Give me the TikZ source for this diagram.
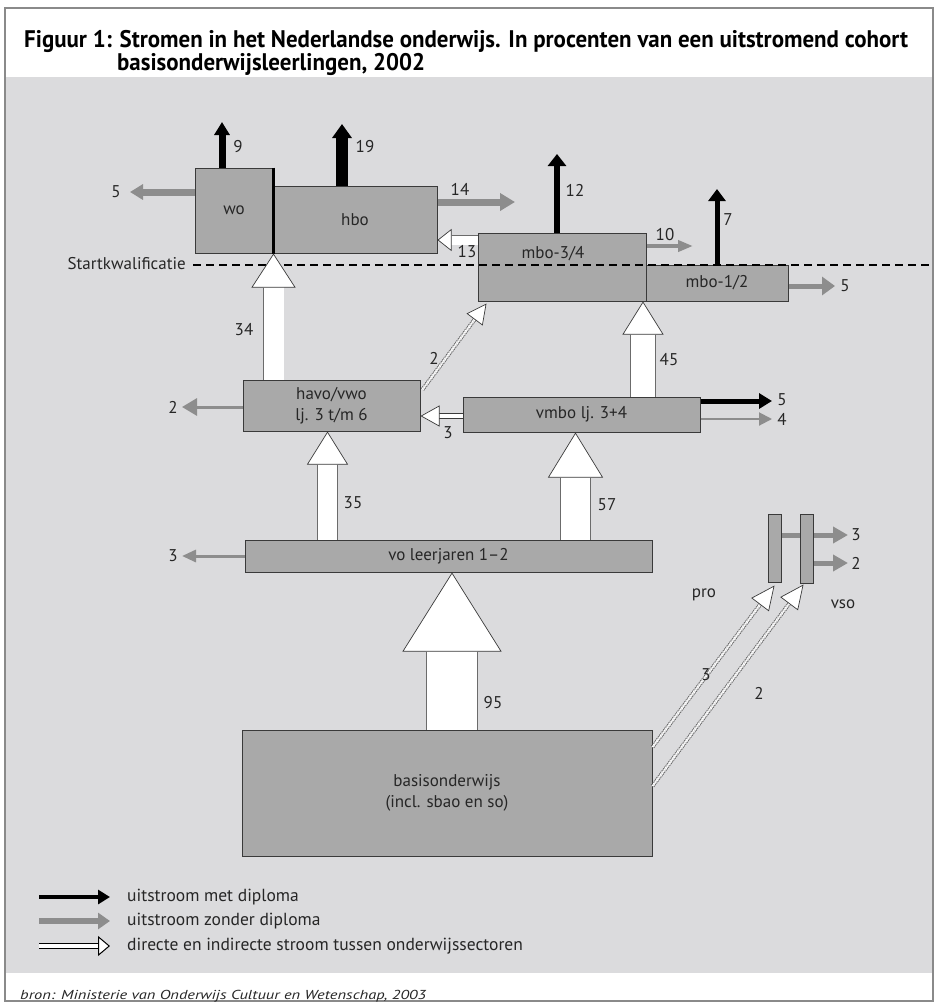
\documentclass[tikz,border=0pt]{standalone}
\usepackage{fontspec}
\setmainfont{PT Sans}
\usetikzlibrary{arrows.meta,calc}

\definecolor{panelgray}{HTML}{DBDBDD}
\definecolor{boxgray}{HTML}{A9A9A9}
\definecolor{flowgray}{HTML}{8D8D8D}
\definecolor{edgegray}{HTML}{3A3A3A}
\definecolor{framegray}{HTML}{8A8A8A}
\definecolor{inkgray}{HTML}{262626}

\newcommand\ttlfont{\fontsize{24}{27}\selectfont\bfseries}
\newlength\titlew

\tikzset{
  box/.style 2 args={draw=edgegray, line width=1pt, fill=boxgray, inner sep=0pt,
    minimum width=#1pt, minimum height=#2pt, text=inkgray,
    font=\fontsize{17}{21}\selectfont},
  lbl/.style={inner sep=0pt, text=inkgray, font=\fontsize{17}{19}\selectfont},
  legtext/.style={inner sep=0pt, text=inkgray, font=\fontsize{17.5}{19}\selectfont, anchor=west},
  outblack/.style n args={3}{draw=black, line width=#1pt,
    -{Triangle[width=#2pt, length=#3pt]}},
  outgray/.style n args={3}{draw=flowgray, line width=#1pt,
    -{Triangle[width=#2pt, length=#3pt]}},
  flow/.style n args={3}{draw=white, line width=#1pt,
    preaction={draw=edgegray!75, line width=#1pt+1.4pt, -, shorten >=#3pt},
    -{Triangle[width=#2pt, length=#3pt, fill=white, color=edgegray, line width=0.7pt]}},
  headonly/.style 2 args={draw=white, line width=0.3pt,
    -{Triangle[width=#1pt, length=#2pt, fill=white, color=edgegray, line width=0.7pt]}},
  pipe/.style={draw=edgegray, line width=1pt, double=white, double distance=3.5pt},
  hatch/.style={draw=edgegray!80, line width=0.9pt, double=white,
    double distance=2.2pt, dash pattern=on 1.3pt off 0.9pt},
}

\begin{document}
% horizontal stretch that makes the first title line span the frame
\settowidth{\titlew}{\ttlfont Figuur 1: Stromen in het Nederlandse onderwijs. In procenten van een uitstromend cohort}
\pgfmathsetmacro\tsx{884/\titlew}
\begin{tikzpicture}[x=1pt,y=-1pt]
\useasboundingbox (0,0) rectangle (938,1005);
\fill[white] (0,0) rectangle (938,1005);
\draw[framegray, line width=1.5pt] (5,8) rectangle (933,1001);
\fill[panelgray] (6,77) rectangle (932,973);

% title
\node[anchor=west, inner sep=0pt] (title1) at (24,41)
  {\scalebox{\tsx}[1]{\ttlfont Figuur 1: Stromen in het Nederlandse onderwijs. In procenten van een uitstromend cohort}};
\node[anchor=west, inner sep=0pt] (title2) at (117,64)
  {\scalebox{\tsx}[1]{\ttlfont basisonderwijsleerlingen, 2002}};

% education sectors
\node[box={78}{85}] (wo) at (234,210.5) {wo};
\node[box={164}{67}] (hbo) at (355,219.5) {hbo};
\node[box={168}{68}] (mbo34) at (562,267) {};
\node[lbl] (mbo34t) at (553,254) {mbo-3/4};
\node[box={142}{36}] (mbo12) at (717,283) {mbo-1/2};
\node[box={177}{51}, align=center] (havo) at (331.5,405.5) {havo/vwo\\lj. 3 t/m 6};
\node[box={237}{35}] (vmbo) at (581.5,414.5) {vmbo lj. 3+4};
\node[box={407}{32}] (vo) at (448.5,556) {vo leerjaren 1--2};
\node[box={410}{126}, align=center] (basis) at (447,793) {basisonderwijs\\(incl. sbao en so)};

\draw[black, line width=2.2pt] (wo.north east) -- (wo.south east);

% start qualification level
\node[lbl, anchor=east] (sk) at (186,264) {Startkwalificatie};
\coordinate (skend) at (930,265);
\draw[black, line width=1.5pt, dash pattern=on 8pt off 5pt] ($(sk.east)+(7,1)$) -- (skend);

% outflow with diploma (black) and without diploma (gray)
\coordinate (e9) at (222,122);
\draw[outblack={7}{15}{13}] (e9 |- wo.north) -- (e9);
\coordinate (e19) at (342,124);
\draw[outblack={12}{19}{14}] (e19 |- hbo.north) -- (e19);
\coordinate (e5a) at (130,192);
\draw[outgray={7}{15}{13}] (e5a -| wo.west) -- (e5a);
\coordinate (e14) at (515,202);
\draw[outgray={7}{17}{15}] (e14 -| hbo.east) -- (e14);
\coordinate (e12) at (557,154);
\draw[outblack={6}{18}{12}] (e12 |- mbo34.north) -- (e12);
\coordinate (e10) at (693,246);
\draw[outgray={4}{11}{15}] (e10 -| mbo34.east) -- (e10);
\coordinate (e7) at (717,189);
\draw[outblack={5}{17}{12}] (e7 |- mbo12.north) -- (e7);
\coordinate (e5b) at (835,286);
\draw[outgray={5}{18}{13}] (e5b -| mbo12.east) -- (e5b);
\coordinate (e2) at (182,407);
\draw[outgray={3}{17}{15}] (e2 -| havo.west) -- (e2);
\coordinate (e5c) at (772,401);
\draw[outblack={5}{15}{13}] (e5c -| vmbo.east) -- (e5c);
\coordinate (e4) at (772,419);
\draw[outgray={2}{13}{13}] (e4 -| vmbo.east) -- (e4);
\coordinate (e3) at (182,556);
\draw[outgray={3}{12}{14}] (e3 -| vo.west) -- (e3);

% flows between sectors
\coordinate (y13) at (0,240);
\draw[flow={9}{22}{14}] (mbo34.west |- y13) -- (hbo.east |- y13);
\draw[flow={20}{44}{34}] (wo.south east |- havo.north) -- (wo.south east);
\coordinate (x45) at (643,0);
\draw[flow={24}{41}{33}] (x45 |- vmbo.north) -- (x45 |- mbo34.south);
\coordinate (x35) at (327.5,0);
\draw[flow={19}{41}{33}] (x35 |- vo.north) -- (x35 |- havo.south);
\coordinate (x57) at (575.5,0);
\draw[flow={29}{55}{45}] (x57 |- vo.north) -- (x57 |- vmbo.south);
\coordinate (x95) at (452,0);
\draw[flow={50}{99}{79}] (x95 |- basis.north) -- (x95 |- vo.south);

\coordinate (y3) at (0,416);
\draw[pipe, shorten >=18pt] (vmbo.west |- y3) -- (havo.east |- y3);
\draw[headonly={21}{19}] (vmbo.west |- y3) -- (havo.east |- y3);

\draw[hatch, shorten >=18pt] ($(havo.north east)+(2,10)$) -- ($(mbo34.south west)+(9,2)$);
\draw[headonly={20}{20}] ($(havo.north east)+(2,10)$) -- ($(mbo34.south west)+(9,2)$);

% practical and special secondary education
\coordinate (e3p) at (848,535);
\coordinate (e2v) at (848,563);
\draw[outgray={5}{16}{15}] (e3p -| 781,0) -- (e3p);
\draw[outgray={5}{16}{15}] (e2v -| 813,0) -- (e2v);
\node[box={13}{68}] (pro) at (774.5,548) {};
\node[box={13}{69}] (vso) at (806.5,548.5) {};

\coordinate (yb3) at (0,747);
\coordinate (yb2) at (0,786);
\draw[hatch, shorten >=22pt] (basis.east |- yb3) -- ($(pro.south)+(0,3)$);
\draw[headonly={22}{24}] (basis.east |- yb3) -- ($(pro.south)+(0,3)$);
\draw[hatch, shorten >=22pt] (basis.east |- yb2) -- ($(vso.south)+(-3,1)$);
\draw[headonly={22}{24}] (basis.east |- yb2) -- ($(vso.south)+(-3,1)$);

% percentages
\node[lbl] (n9) at (238,147) {9};
\node[lbl] (n19) at (365,147) {19};
\node[lbl] (n5a) at (116,192) {5};
\node[lbl] (n14) at (460,189) {14};
\node[lbl] (n12) at (575,190) {12};
\node[lbl] (n10) at (665,235) {10};
\node[lbl] (n7) at (728,220) {7};
\node[lbl] (n5b) at (845,286) {5};
\node[lbl] (n13) at (467,252) {13};
\node[lbl] (n34) at (244,330) {34};
\node[lbl] (n2d) at (434,358) {2};
\node[lbl] (n2h) at (173,407) {2};
\node[lbl] (n3h) at (448,433) {3};
\node[lbl] (n45) at (669,360) {45};
\node[lbl] (n5c) at (782,400) {5};
\node[lbl] (n4) at (782,419) {4};
\node[lbl] (n35) at (353,503) {35};
\node[lbl] (n57) at (607,505) {57};
\node[lbl] (n3v) at (173,556) {3};
\node[lbl] (n95) at (493,703) {95};
\node[lbl] (n3d) at (706,675) {3};
\node[lbl] (n2b) at (759,693) {2};
\node[lbl] (n3p) at (856,535) {3};
\node[lbl] (n2v) at (856,563) {2};
\node[lbl] (prot) at (704,595) {pro};
\node[lbl] (vsot) at (843,604) {vso};

% legend
\coordinate (lg1a) at (39,897);  \coordinate (lg1b) at (110,897);
\coordinate (lg2a) at (39,921);  \coordinate (lg2b) at (110,921);
\coordinate (lg3a) at (39,946);  \coordinate (lg3b) at (110,946);
\draw[outblack={4}{14}{12}] (lg1a) -- (lg1b);
\draw[outgray={6}{16}{12}] (lg2a) -- (lg2b);
\draw[draw=black, line width=1.3pt, double=white, double distance=4pt, shorten >=12pt] (lg3a) -- (lg3b);
\draw[draw=white, line width=0.3pt, -{Triangle[width=20pt, length=12pt, fill=white, color=black, line width=1pt]}] (lg3a) -- (lg3b);
\node[legtext] (lt1) at (127,897) {uitstroom met diploma};
\node[legtext] (lt2) at (127,921) {uitstroom zonder diploma};
\node[legtext] (lt3) at (127,946) {directe en indirecte stroom tussen onderwijssectoren};

% source
\node[anchor=west, inner sep=0pt, text=inkgray] (src) at (20,996)
  {\resizebox{406pt}{\height}{\fontsize{13}{15}\selectfont\itshape bron: Ministerie van Onderwijs Cultuur en Wetenschap, 2003}};
\end{tikzpicture}
\end{document}
